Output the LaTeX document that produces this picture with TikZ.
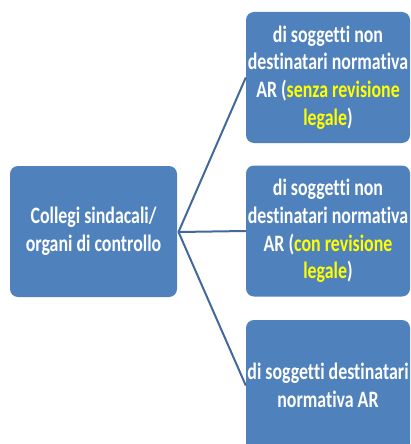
\documentclass[tikz,border=0pt]{standalone}
\usepackage{fontspec}
\setmainfont{Carlito}[FakeStretch=0.76,RawFeature={-liga;-clig;-dlig;-calt}]
\newcommand\nlg{\kern0pt }
\definecolor{boxblue}{HTML}{4F81BD}
\definecolor{linkblue}{HTML}{41699C}
\definecolor{hiyellow}{HTML}{FFFF00}
\begin{document}
\begin{tikzpicture}[x=1pt,y=-1pt,
  box/.style={draw=none,fill=boxblue,rounded corners=8pt,inner sep=0pt,
    minimum height=131pt,text=white,align=center,
    font=\bfseries\fontsize{23.5}{27.7}\selectfont},
  link/.style={draw=linkblue,line width=2pt}]
\useasboundingbox (0,0) rectangle (411,444);
\clip (0,0) rectangle (411,444);
\node[box,minimum width=167pt] (src) at (93.5,231.5) {Collegi sindacali/\\organi di controllo};
\node[box,minimum width=164pt] (a) at (328,77.5) {di sogget\nlg t\nlg i non\\destinatari normativa\\AR (\textcolor{hiyellow}{senza revisione}\\\textcolor{hiyellow}{legale})};
\node[box,minimum width=164pt] (b) at (328,231) {di sogget\nlg t\nlg i non\\destinatari normativa\\AR (\textcolor{hiyellow}{con revisione}\\\textcolor{hiyellow}{legale})};
\node[box,minimum width=164pt] (c) at (328,385.5) {di sogget\nlg t\nlg i destinatari\\normativa AR};
\coordinate (hub) at (178.5,232);
\draw[link] (hub) -- (a.west);
\draw[link] (hub) -- (b.west);
\draw[link] (hub) -- (c.west);
\end{tikzpicture}
\end{document}
